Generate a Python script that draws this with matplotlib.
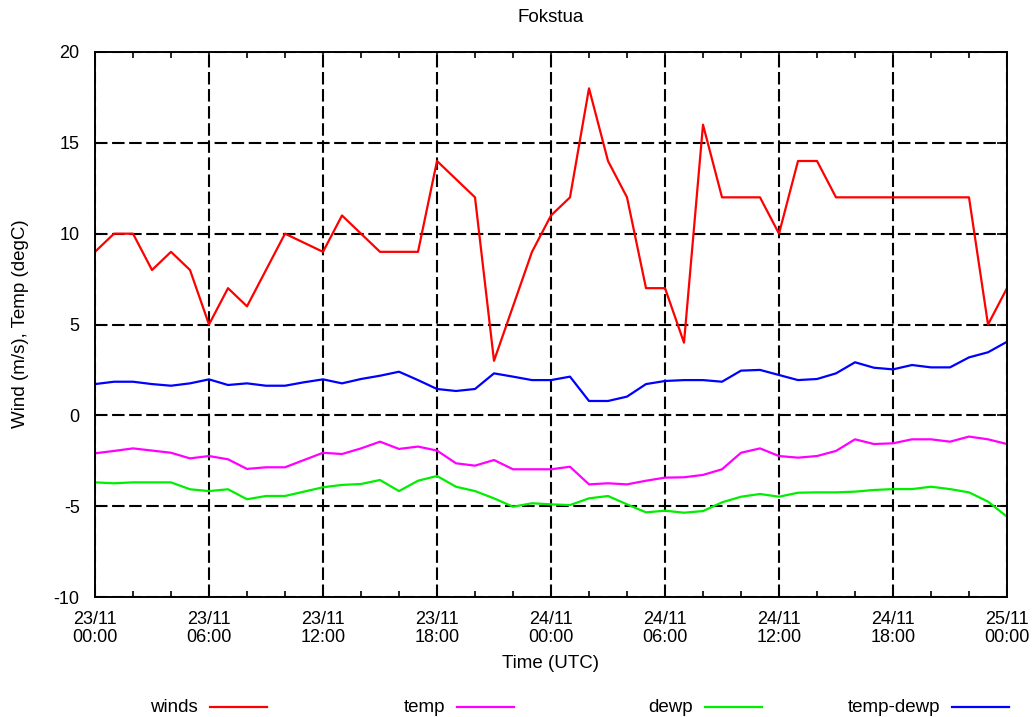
import numpy as np
import matplotlib
matplotlib.use("Agg")
import matplotlib.pyplot as plt
from matplotlib.lines import Line2D

plt.rcParams["font.family"] = ["Liberation Sans", "DejaVu Sans"]
plt.rcParams["axes.unicode_minus"] = False

# hours since 23/11 00:00 UTC
wind_hours = [0, 1, 2, 3, 4, 5, 6, 7, 8, 10, 12, 13, 15, 17, 18, 20, 21, 23, 24, 25,
              26, 27, 28, 29, 30, 31, 32, 33, 35, 36, 37, 38, 39, 46, 47, 48]
winds = [9, 10, 10, 8, 9, 8, 5, 7, 6, 10, 9, 11, 9, 9, 14, 12, 3, 9, 11, 12,
         18, 14, 12, 7, 7, 4, 16, 12, 12, 10, 14, 14, 12, 12, 5, 7]

hours = list(range(49))
temp = [-2.09, -1.96, -1.82, -1.94, -2.06, -2.37, -2.24, -2.42, -2.95, -2.86,
        -2.86, -2.46, -2.06, -2.13, -1.82, -1.45, -1.85, -1.72, -1.94, -2.64,
        -2.77, -2.46, -2.97, -2.97, -2.97, -2.83, -3.80, -3.74, -3.80, -3.60,
        -3.43, -3.41, -3.28, -2.97, -2.06, -1.82, -2.24, -2.33, -2.24, -1.96,
        -1.32, -1.58, -1.54, -1.32, -1.32, -1.45, -1.17, -1.32, -1.58]
dewp = [-3.69, -3.74, -3.69, -3.69, -3.69, -4.07, -4.17, -4.07, -4.62, -4.44,
        -4.44, -4.20, -3.96, -3.83, -3.78, -3.56, -4.17, -3.60, -3.34, -3.93,
        -4.17, -4.57, -5.03, -4.84, -4.90, -4.94, -4.57, -4.44, -4.90, -5.34,
        -5.25, -5.36, -5.27, -4.79, -4.48, -4.33, -4.48, -4.26, -4.24, -4.24,
        -4.20, -4.11, -4.06, -4.06, -3.93, -4.06, -4.24, -4.75, -5.58]
temp_dewp = [1.72, 1.85, 1.85, 1.72, 1.63, 1.76, 1.98, 1.67, 1.76, 1.63,
             1.63, 1.82, 1.98, 1.76, 2.00, 2.18, 2.40, 1.94, 1.45, 1.34,
             1.45, 2.31, 2.13, 1.94, 1.94, 2.13, 0.79, 0.79, 1.03, 1.72,
             1.89, 1.94, 1.94, 1.85, 2.46, 2.50, 2.22, 1.94, 2.00, 2.31,
             2.92, 2.62, 2.53, 2.77, 2.64, 2.64, 3.19, 3.47, 4.05]

xtick_pos = [0, 6, 12, 18, 24, 30, 36, 42, 48]
xtick_labels = ["23/11\n00:00", "23/11\n06:00", "23/11\n12:00", "23/11\n18:00",
                "24/11\n00:00", "24/11\n06:00", "24/11\n12:00", "24/11\n18:00",
                "25/11\n00:00"]

W, H = 1035, 717
fig = plt.figure(figsize=(W / 100, H / 100), dpi=100)
ax = fig.add_axes([95 / W, 1 - 597 / H, 912 / W, 545 / H])

lw = 1.6
series = [
    ("winds", wind_hours, winds, "#ff0000"),
    ("temp", hours, temp, "#ff00ff"),
    ("dewp", hours, dewp, "#00ee00"),
    ("temp-dewp", hours, temp_dewp, "#0000ff"),
]
for name, xs, ys, col in series:
    ax.plot(xs, ys, color=col, lw=lw, label=name)

ax.set_xticks(xtick_pos)
ax.set_xticklabels(xtick_labels, linespacing=1.05)
ax.set_xticks(range(0, 49, 2), minor=True)
ax.set_yticks(range(-10, 21, 5))
ax.set_xlim(0, 48)
ax.set_ylim(-10, 20)
ax.tick_params(which="both", direction="in", top=True, right=True,
               labelsize=13, width=1.2)
ax.tick_params(which="major", length=7)
ax.tick_params(axis="x", which="major", pad=10)
ax.tick_params(axis="y", which="major", pad=11)
ax.tick_params(which="minor", length=4)
ax.grid(True, which="major", color="black", lw=1.5, linestyle=(0, (6, 2.2)))
ax.set_axisbelow(True)
for s in ax.spines.values():
    s.set_linewidth(1.4)

fig.text(551 / W, 1 - 18 / H, "Fokstua", fontsize=13.5, ha="center", va="center")
fig.text(551 / W, 1 - 663 / H, "Time (UTC)", fontsize=13.5, ha="center", va="center")
fig.text(21 / W, 1 - 324 / H, "Wind (m/s), Temp (degC)", fontsize=13.5,
         ha="center", va="center", rotation=90)

# gnuplot-style key below the plot
key_y = 1 - 707 / H
for i, (name, xs, ys, col) in enumerate(series):
    x0 = 210 + 247.3 * i
    fig.text((x0 - 12) / W, key_y, name, fontsize=13.5, ha="right", va="center")
    fig.add_artist(Line2D([x0 / W, (x0 + 57) / W], [key_y, key_y],
                          color=col, lw=lw, transform=fig.transFigure))

fig.savefig("out.png", dpi=100)
